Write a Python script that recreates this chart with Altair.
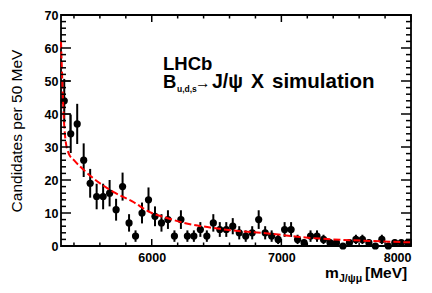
import numpy as np
import pandas as pd
import altair as alt

# ---- data ----
bin_centers = [5325 + 50 * i for i in range(54)]
counts = [44, 34, 37, 26, 19, 15, 15, 16, 11, 18,
          7, 3, 10, 14, 9, 7, 8, 3, 8, 3,
          3, 5, 3, 7, 5, 5, 6, 4, 3, 4,
          8, 4, 3, 2, 5, 5, 2, 1, 3, 3,
          2, 1, 1, 0, 1, 2, 2, 1, 0, 2,
          0, 1, 1, 1]

curve_mass = [5300, 5310, 5320, 5335, 5360, 5400, 5450, 5550, 5700, 5850,
              6000, 6100, 6250, 6450, 6650, 6900, 7150, 7400, 7700, 8000]
curve_val = [62, 50, 40, 32, 28, 26, 24, 20.5, 16.5, 13.5,
             10, 8.7, 7, 5.6, 4.6, 3.8, 2.7, 2.0, 1.5, 1.1]

# outline histogram fragment visible at the top-left
seg_x1 = [5305, 5305, 5370]
seg_x2 = [5370, 5370, 5370]
seg_y1 = [50, 40, 40]
seg_y2 = [50, 40, 34]

y_major = [0, 10, 20, 30, 40, 50, 60, 70]
y_minor = [v for v in range(0, 71, 2) if v % 10 != 0]
x_major = [6000, 7000, 8000]
x_minor = [5400, 5600, 5800, 6200, 6400, 6600, 6800, 7200, 7400, 7600, 7800]

n = np.array(counts, dtype=float)
df = pd.DataFrame({"mass": bin_centers, "n": n,
                   "lo": n - np.sqrt(n), "hi": n + np.sqrt(n)})
curve_df = pd.DataFrame({"cx": curve_mass, "cy": curve_val})
seg_df = pd.DataFrame({"x1": seg_x1, "x2": seg_x2, "y1": seg_y1, "y2": seg_y2})

FONT = "Liberation Sans"
W, H = 350, 231
xs = alt.Scale(domain=[5300, 8000], nice=False, zero=False)
ys = alt.Scale(domain=[0, 70], nice=False, zero=True)

x_axis = alt.Axis(values=x_major, format="d", ticks=False, domain=False, grid=False,
                  title=None, labelFont=FONT, labelFontWeight="bold", labelFontSize=12.5,
                  labelColor="black", labelPadding=5)
y_axis = alt.Axis(values=y_major, format="d", ticks=False, domain=False, grid=False,
                  title=None, labelFont=FONT, labelFontWeight="bold", labelFontSize=12.5,
                  labelColor="black", labelPadding=3)


def X(field):
    return alt.X(field, scale=xs, axis=x_axis)


def Y(field):
    return alt.Y(field, scale=ys, axis=y_axis)


err = alt.Chart(df).mark_rule(color="black", strokeWidth=2).encode(
    x=X("mass:Q"), y=Y("lo:Q"), y2="hi:Q",
)
pts = alt.Chart(df).mark_circle(size=52, color="black", opacity=1).encode(
    x=X("mass:Q"), y=Y("n:Q"),
)
curve = alt.Chart(curve_df).mark_line(
    color="#ff0000", strokeWidth=2, strokeDash=[7, 3], interpolate="monotone"
).encode(x=X("cx:Q"), y=Y("cy:Q"))
hist = alt.Chart(seg_df).mark_rule(color="black", strokeWidth=1.2).encode(
    x=X("x1:Q"), x2="x2:Q", y=Y("y1:Q"), y2="y2:Q",
)


def yticks(vals, x0, x1):
    return alt.Chart(pd.DataFrame({"v": vals})).mark_rule(
        color="black", strokeWidth=1.5).encode(
        y=Y("v:Q"), x=alt.value(x0), x2=alt.value(x1))


def xticks(vals, y0, y1):
    return alt.Chart(pd.DataFrame({"v": vals})).mark_rule(
        color="black", strokeWidth=1.5).encode(
        x=X("v:Q"), y=alt.value(y0), y2=alt.value(y1))


ticks = [
    yticks(y_major, 0, 10), yticks(y_minor, 0, 5),
    yticks(y_major, W, W - 10), yticks(y_minor, W, W - 5),
    xticks(x_major, H, H - 7), xticks(x_minor, H, H - 3.5),
    xticks(x_major, 0, 7), xticks(x_minor, 0, 3.5),
]


def txt(s, x, y, size, weight="bold", angle=0, align="left", baseline="alphabetic"):
    kw = dict(font=FONT, fontSize=size, fontWeight=weight, color="black",
              align=align, baseline=baseline)
    if angle:
        kw["angle"] = angle
    return alt.Chart(pd.DataFrame({"t": [s]})).mark_text(**kw).encode(
        text="t:N", x=alt.value(x), y=alt.value(y))


texts = [
    txt("LHCb", 102, 55, 18.5),
    txt("B", 102, 73, 18.5),
    txt("u,d,s", 116, 77, 8.5),
    txt("\u2192", 134, 73, 15.5, weight="normal"),
    txt("J/\u03c8", 151, 73, 19.5),
    txt("X", 190, 73, 19.5),
    txt("simulation", 211, 73, 20.5),
    txt("m", 264, 263, 15.5),
    txt("J/\u03c8\u03bc", 278, 267, 10.5),
    txt("[MeV]", 304, 263, 15.5),
    txt("Candidates per 50 MeV", -44, 116, 15.5, weight="normal", angle=270,
        align="center", baseline="middle"),
]

chart = alt.layer(err, hist, pts, curve, *ticks, *texts).properties(
    width=W, height=H,
    autosize=alt.AutoSizeParams(type="none"),
    padding={"left": 53, "top": 7, "right": 13, "bottom": 40},
).configure_view(stroke="black", strokeWidth=1.8)

chart.save("out.html", embed_options={"renderer": "svg", "actions": False})
